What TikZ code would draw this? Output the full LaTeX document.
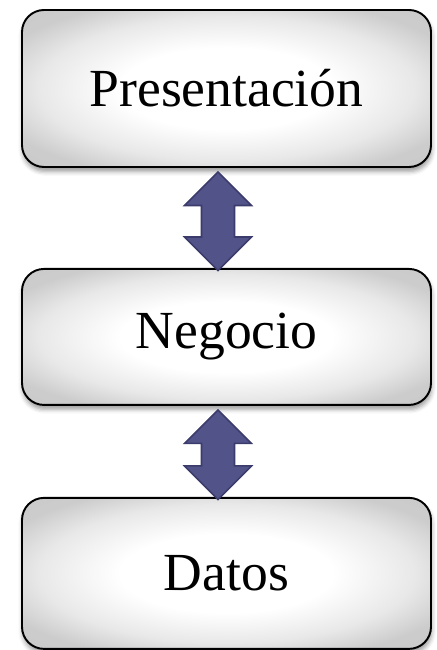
\documentclass[tikz,border=0pt]{standalone}
\usepackage{fontspec}
\setmainfont{Liberation Serif}
\usetikzlibrary{positioning,calc,shadows.blur}
\definecolor{azulflecha}{HTML}{525489}
\definecolor{azulborde}{HTML}{3B3C6C}
\pgfdeclareradialshading{capabrillo}{\pgfpoint{0bp}{0bp}}{color(0bp)=(white); color(13bp)=(white);
    color(23bp)=(black!9); color(30bp)=(black!20); color(50bp)=(black!22)}
\tikzstyle{capa} = [draw=black, line width=1.1pt, rounded corners=0.44cm,
    shading=capabrillo, minimum width=8.18cm, inner sep=0pt,
    blur shadow={shadow xshift=0.4pt, shadow yshift=-2.5pt, shadow blur radius=2.5pt},
    font=\fontsize{30.5}{36}\selectfont]
\tikzstyle{flecha} = [fill=azulflecha, draw=azulborde, line width=0.9pt, line join=miter]
% flecha doble entre dos capas
\newcommand{\flechadoble}[2]{
    \draw[flecha] let \p1 = ($(#1.south)+(-0.17,-0.08)$), \p2 = ($(#2.north)+(-0.17,-0.05)$) in
        (\p1) -- ++(0.67,-0.67) -- ++(-0.34,0) -- (\x1+0.33cm,\y2+0.67cm) -- ++(0.34,0)
        -- (\x1,\y2) -- ++(-0.67,0.67) -- ++(0.34,0) -- (\x1-0.33cm,\y1-0.67cm)
        -- ++(-0.34,0) -- cycle;
}

\begin{document}
\begin{tikzpicture}
    \useasboundingbox (0,0) rectangle (8.72,-13);
    \node[capa, minimum height=3.14cm] (pres) at (4.53,-1.77) {Presentación};
    \node[capa, minimum height=2.72cm, below=2cm of pres] (neg) {Negocio};
    \node[capa, minimum height=3.02cm, below=1.82cm of neg] (dat) {Datos};
    \flechadoble{pres}{neg}
    \flechadoble{neg}{dat}
\end{tikzpicture}
\end{document}
